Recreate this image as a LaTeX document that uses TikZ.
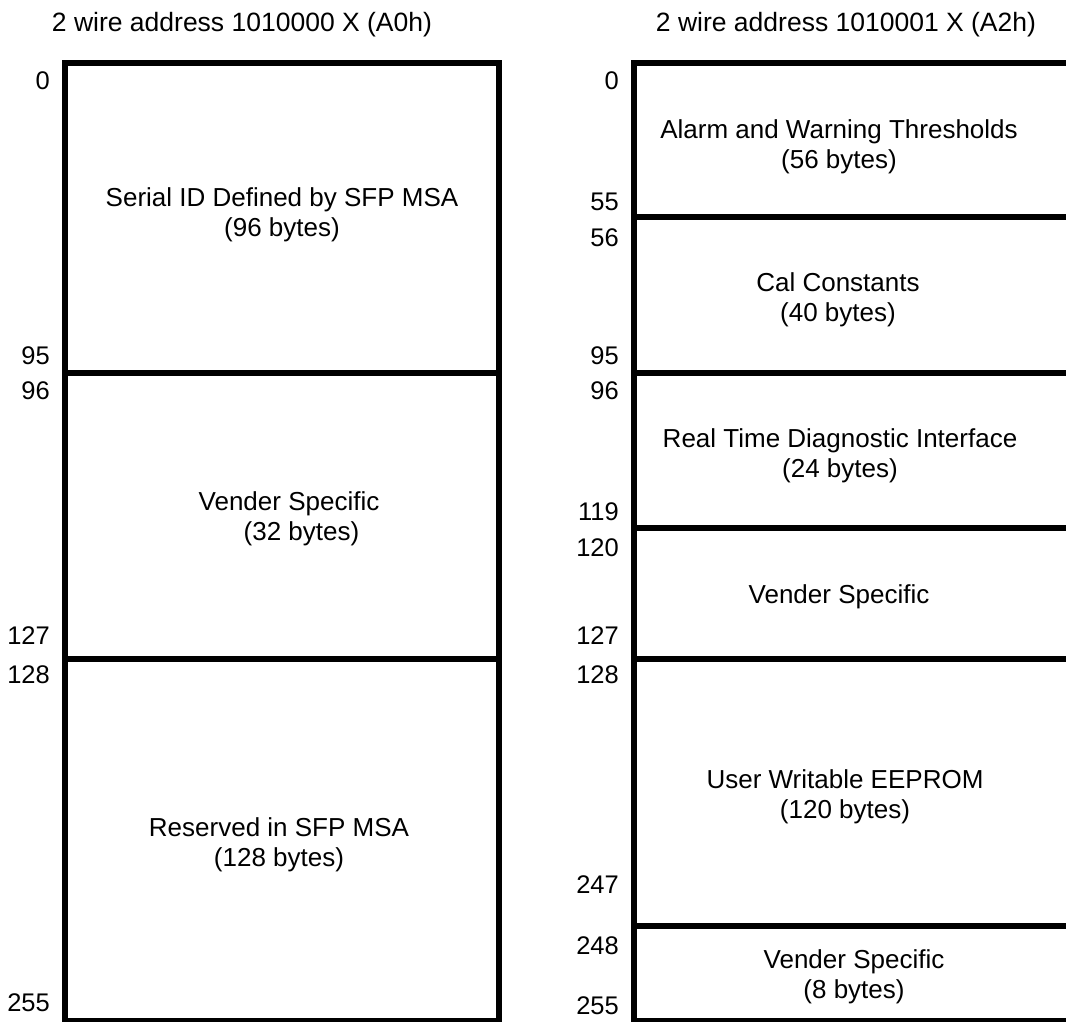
\documentclass[tikz,border=0pt]{standalone}
\usepackage{fontspec}
\setmainfont{Liberation Sans}
\begin{document}
\begin{tikzpicture}[x=1pt,y=-1pt,
  wall/.style={line width=6pt, line join=miter},
  lbl/.style={font=\fontsize{26}{29.5}\selectfont, align=center, inner sep=0pt},
  num/.style={font=\fontsize{25.5}{29}\selectfont, anchor=east, inner sep=0pt},
  ttl/.style={font=\fontsize{26.5}{29}\selectfont, anchor=base, inner sep=0pt}]
\useasboundingbox (0,0) rectangle (1066,1021);
\clip (0,0) rectangle (1066,1021);
% titles
\node[ttl] (tA) at (242,31) {2 wire address 1010000 X (A0h)};
\node[ttl] (tB) at (846,31) {2 wire address 1010001 X (A2h)};
% left memory map
\coordinate (LA) at (65,63);
\coordinate (LB) at (499,1021);
\draw[wall] (LA) rectangle (LB);
\coordinate (L1a) at (65,373);  \coordinate (L1b) at (499,373);
\coordinate (L2a) at (65,659);  \coordinate (L2b) at (499,659);
\draw[wall] (L1a) -- (L1b);
\draw[wall] (L2a) -- (L2b);
\node[lbl] (s1) at (282,215) {Serial ID Defined by SFP MSA\\(96 bytes)};
\node[lbl] (s2) at (289,519) {Vender Specific\\\hspace*{25pt}(32 bytes)};
\node[lbl] (s3) at (279,845) {Reserved in SFP MSA\\(128 bytes)};
\node[num] (nA0) at (50,81) {0};
\node[num] (nA95) at (50,356) {95};
\node[num] (nA96) at (50,391) {96};
\node[num] (nA127) at (50,636) {127};
\node[num] (nA128) at (50,675) {128};
\node[num] (nA255) at (50,1003) {255};
% right memory map (runs off the right edge)
\coordinate (RT) at (634,63);   \coordinate (RTe) at (1080,63);
\coordinate (RB) at (634,1021); \coordinate (RBe) at (1080,1021);
\draw[wall] (RTe) -- (RT) -- (RB) -- (RBe);
\foreach \yy in {217,373,528,659,926}{
  \draw[wall] (634,\yy) -- (1080,\yy);
}
\node[lbl] (r1) at (839,147) {Alarm and Warning Thresholds\\(56 bytes)};
\node[lbl] (r2) at (838,300) {Cal Constants\\(40 bytes)};
\node[lbl] (r3) at (840,456) {Real Time Diagnostic Interface\\(24 bytes)};
\node[lbl] (r4) at (839,596.5) {Vender Specific};
\node[lbl] (r5) at (845,797) {User Writable EEPROM\\(120 bytes)};
\node[lbl] (r6) at (854,977) {Vender Specific\\(8 bytes)};
\node[num] (nB0) at (619,81) {0};
\node[num] (nB55) at (619,202) {55};
\node[num] (nB56) at (619,238) {56};
\node[num] (nB95) at (619,356) {95};
\node[num] (nB96) at (619,391) {96};
\node[num] (nB119) at (619,512) {119};
\node[num] (nB120) at (619,548) {120};
\node[num] (nB127) at (619,636) {127};
\node[num] (nB128) at (619,675) {128};
\node[num] (nB247) at (619,885) {247};
\node[num] (nB248) at (619,946) {248};
\node[num] (nB255) at (619,1006) {255};
\end{tikzpicture}
\end{document}
